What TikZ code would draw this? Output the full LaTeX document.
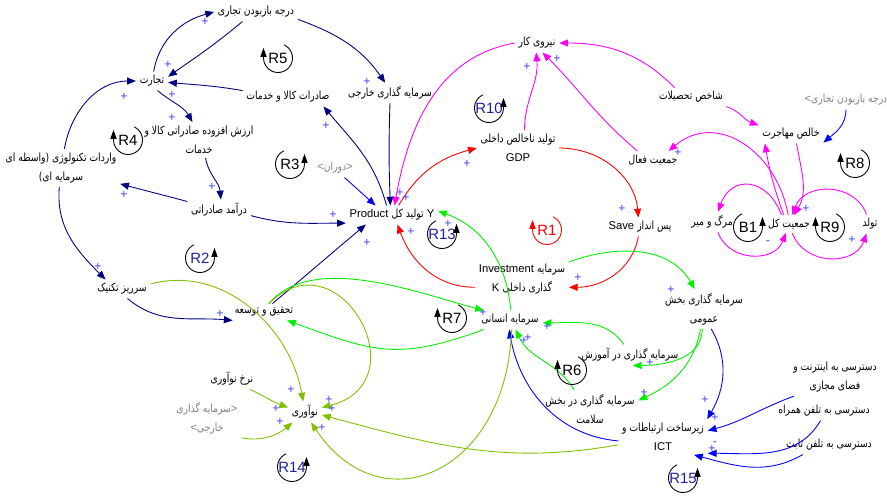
\documentclass[tikz,border=0pt]{standalone}
\usepackage{fontspec}
\setmainfont{Liberation Sans}
\newfontfamily\farsi[Script=Arabic,FakeStretch=0.82]{DejaVu Sans}
\TeXXeTstate=1
\usetikzlibrary{arrows.meta}

\definecolor{cldnavy}{RGB}{0,0,128}
\definecolor{cldmag}{RGB}{255,0,255}
\definecolor{cldred}{RGB}{255,0,0}
\definecolor{cldgreen}{RGB}{0,240,0}
\definecolor{cldolive}{RGB}{128,192,0}
\definecolor{cldblue}{RGB}{0,0,255}
\definecolor{sgnblue}{RGB}{64,64,255}
\definecolor{shadowgray}{RGB}{128,128,128}
\definecolor{loopnavy}{RGB}{32,32,160}

\newcommand\fa[1]{{\farsi\beginR #1\endR}}

\tikzset{
  cldvar/.style={inner sep=2pt, align=center, font=\fontsize{6.4}{11}\selectfont},
  shadowvar/.style={cldvar, text=shadowgray},
  lnk/.style={line width=0.5pt, -{Triangle[length=5pt,width=4pt]}},
  sgn/.style={text=sgnblue, inner sep=0pt, font=\fontsize{7}{7}\selectfont},
  looplbl/.style={inner sep=0pt, font=\fontsize{8.5}{8.5}\selectfont},
  looparr/.style={line width=0.5pt, -{Triangle[length=5pt,width=3.5pt]}},
}

% loop marker, arrow on the left / on the right
\newcommand\cldloopL[4]{%
  \node[looplbl,text=#3] (#1) at (#2) {#1};
  \draw[looparr,#4] (#1.center) ++(65:0.29cm)
    arc[start angle=65,end angle=-180,radius=0.29cm] -- ++(0,0.2cm);
}
\newcommand\cldloopR[4]{%
  \node[looplbl,text=#3] (#1) at (#2) {#1};
  \draw[looparr,#4] (#1.center) ++(115:0.29cm)
    arc[start angle=115,end angle=360,radius=0.29cm] -- ++(0,0.2cm);
}

\begin{document}
\begin{tikzpicture}[x=0.02cm,y=0.02cm]
\useasboundingbox (0,0) rectangle (887,-501);

% variables
\node[cldvar] (dar)  at (256,-12)  {\fa{درجه بازبودن تجاری}};
\node[cldvar] (tj)   at (152,-81)  {\fa{تجارت}};
\node[cldvar] (sad)  at (288,-97)  {\fa{صادرات کالا و خدمات}};
\node[cldvar] (skh)  at (390,-93)  {\fa{سرمایه گذاری خارجی}};
\node[cldvar] (arz)  at (199,-140) {\fa{ارزش افزوده صادراتی کالا و}\\\fa{خدمات}};
\node[cldvar] (vrd)  at (61,-168)  {\fa{واردات تکنولوژی (واسطه ای}\\\fa{سرمایه ای)}};
\node[cldvar] (dsad) at (219,-210) {\fa{درآمد صادراتی}};
\node[shadowvar] (dav) at (335,-168) {<\fa{دوران}>};
\node[cldvar] (Y)    at (392,-215) {Product \fa{تولید کل} Y};
\node[cldvar] (nk)   at (537,-43)  {\fa{نیروی کار}};
\node[cldvar] (gdp)  at (518,-148) {\fa{تولید ناخالص داخلی}\\GDP};
\node[cldvar] (sht)  at (691,-97)  {\fa{شاخص تحصیلات}};
\node[cldvar] (khm)  at (791,-134) {\fa{خالص مهاجرت}};
\node[shadowvar] (sh1) at (846,-100) {<\fa{درجه بازبودن تجاری}};
\node[cldvar] (jf)   at (653,-160) {\fa{جمعیت فعال}};
\node[cldvar] (save) at (640,-227) {Save \fa{پس انداز}};
\node[cldvar] (mm)   at (712,-222) {\fa{مرگ و میر}};
\node[cldvar] (jk)   at (789,-224) {\fa{جمعیت کل}};
\node[cldvar] (tv)   at (870,-224) {\fa{تولد}};
\node[cldvar] (inv)  at (522,-279) {Investment \fa{سرمایه}\\K \fa{گذاری داخلی}};
\node[cldvar] (ens)  at (510,-320) {\fa{سرمایه انسانی}};
\node[cldvar] (sarr) at (122,-289) {\fa{سرریز تکنیک}};
\node[cldvar] (tt)   at (264,-312) {\fa{تحقیق و توسعه}};
\node[cldvar] (sbo)  at (704,-309) {\fa{سرمایه گذاری بخش}\\\fa{عمومی}};
\node[cldvar] (sam)  at (630,-355) {\fa{سرمایه گذاری در آموزش}};
\node[cldvar] (sal)  at (590,-409) {\fa{سرمایه گذاری در بخش}\\\fa{سلامت}};
\node[cldvar] (ict)  at (663,-437) {\fa{زیرساخت ارتباطات و}\\ICT};
\node[cldvar] (int)  at (835,-377) {\fa{دسترسی به اینترنت و}\\\fa{فضای مجازی}};
\node[cldvar] (ham)  at (824,-411) {\fa{دسترسی به تلفن همراه}};
\node[cldvar] (sab)  at (829,-445) {\fa{دسترسی به تلفن ثابت}};
\node[cldvar] (nnv)  at (232,-379) {\fa{نرخ نوآوری}};
\node[shadowvar] (skh2) at (207,-418) {\fa{سرمایه گذاری}>\\<\fa{خارجی}};
\node[cldvar] (nav)  at (305,-412) {\fa{نوآوری}};

% trade links
\draw[lnk,cldnavy] (tj.80) to[out=80,in=195] (dar.west);
\draw[lnk,cldnavy] (dar.-145) to[out=-140,in=35] (tj.15);
\draw[lnk,cldnavy] (sad.172) to[out=170,in=-5] (tj.-5);
\draw[lnk,cldnavy] (tj.-60) to[out=-40,in=120] (arz.110);
\draw[lnk,cldnavy] (vrd.80) to[out=80,in=180] (tj.west);
\draw[lnk,cldnavy] (dar.-10) to[out=-20,in=125] (skh.115);
\draw[lnk,cldnavy] (Y.120) to[out=105,in=-50] (sad.-15);
\draw[lnk,cldnavy] (skh.south) to[out=-92,in=92] (Y.100);
\draw[lnk,cldnavy] (arz.-70) to[out=-80,in=95] (dsad.80);
\draw[lnk,cldnavy] (dsad.165) to[out=165,in=-15] (vrd.-15);
\draw[lnk,cldnavy] (dsad.-10) to[out=-15,in=180] (Y.190);
\draw[lnk,cldnavy] (vrd.-95) to[out=-95,in=135] (sarr.150);
\draw[lnk,cldnavy] (sarr.-60) to[out=-40,in=175] (tt.195);
\draw[lnk,cldnavy] (tt.45) to[out=40,in=-140] (Y.-160);

% ICT and migration links
\draw[lnk,cldblue] (dav.-45) -- (Y.150);
\draw[lnk,cldblue] (sh1.south) to[out=-90,in=40] (khm.-15);
\draw[lnk,cldblue] (sbo.-70) to[out=-60,in=60] (ict.22);
\draw[lnk,cldblue] (int.-155) to[out=-160,in=15] (ict.8);
\draw[lnk,cldblue] (ham.-110) to[out=-120,in=0] (ict.-20);
\draw[lnk,cldblue] (sab.-160) to[out=-150,in=-15] (ict.-30);
\draw[lnk,cldblue] (ict.185) to[out=175,in=-80] (ens.-95);

% capital links
\draw[lnk,cldred] (Y.55) to[out=60,in=195] (gdp.180);
\draw[lnk,cldred] (gdp.0) to[out=0,in=95] (save.100);
\draw[lnk,cldred] (save.-100) to[out=-100,in=0] (inv.-10);
\draw[lnk,cldred] (inv.190) to[out=180,in=-70] (Y.-60);

% population links
\draw[lnk,cldmag] (nk.180) to[out=190,in=80] (Y.75);
\draw[lnk,cldmag] (gdp.70) to[out=90,in=-85] (nk.-95);
\draw[lnk,cldmag] (jf.150) to[out=140,in=-45] (nk.-60);
\draw[lnk,cldmag] (sht.150) to[out=135,in=0] (nk.east);
\draw[lnk,cldmag] (sht.-15) to[out=-20,in=160] (khm.165);
\draw[lnk,cldmag] (jk.95) to[out=100,in=40,looseness=1.2] (jf.30);
\draw[lnk,cldmag] (jk.120) to[out=110,in=-80] (khm.-160);
\draw[lnk,cldmag] (khm.-60) to[out=-80,in=60] (jk.60);
\draw[lnk,cldmag] (jk.130) to[out=110,in=70,looseness=1.6] (mm.60);
\draw[lnk,cldmag] (mm.-60) to[out=-70,in=-110,looseness=1.2] (jk.-110);
\draw[lnk,cldmag] (jk.-70) to[out=-70,in=-110,looseness=1.2] (tv.-110);
\draw[lnk,cldmag] (tv.110) to[out=110,in=70,looseness=1.2] (jk.70);

% human capital links
\draw[lnk,cldgreen] (ens.85) to[out=95,in=-20] (Y.5);
\draw[lnk,cldgreen] (tt.60) to[out=50,in=165,looseness=0.8] (ens.160);
\draw[lnk,cldgreen] (ens.-160) to[out=-160,in=-20,looseness=1.2] (tt.-20);
\draw[lnk,cldgreen] (inv.20) to[out=20,in=120] (sbo.115);
\draw[lnk,cldgreen] (sbo.-95) to[out=-90,in=0] (sam.-75);
\draw[lnk,cldgreen] (sbo.-100) to[out=-100,in=25] (sal.10);
\draw[lnk,cldgreen] (sam.120) to[out=125,in=0] (ens.-5);
\draw[lnk,cldgreen] (sal.130) to[out=120,in=-65] (ens.-60);

% innovation links
\draw[lnk,cldolive] (nnv.-30) to[out=-25,in=160] (nav.165);
\draw[lnk,cldolive] (skh2.-30) to[out=-10,in=-140] (nav.-140);
\draw[lnk,cldolive] (sarr.10) to[out=15,in=100] (nav.100);
\draw[lnk,cldolive] (tt.60) to[out=45,in=14,out distance=1.98cm,in distance=2.06cm] (nav.15);
\draw[lnk,cldolive] (ict.190) to[out=190,in=-15] (nav.-10);
\draw[lnk,cldolive] (ens.-80) to[out=-92,in=-56,out distance=2.86cm,in distance=2.54cm] (nav.-60);

% polarities
\foreach \x/\y [count=\i] in {205/22, 168/65, 172/95, 124/97, 172/118, 367/82, 326/126,
    212/187, 124/195, 333/215, 98/267, 220/314, 367/243, 400/193, 406/198, 411/232,
    448/224, 467/164, 527/67, 557/59, 622/209, 578/278, 671/290, 678/153, 806/209,
    852/240, 483/313, 547/327, 524/341, 528/338, 650/363, 644/393, 705/400, 715/418,
    712/449, 291/390, 276/409, 280/422, 329/400, 332/409, 322/428}
  \node[sgn] (plus\i) at (\x,-\y) {+};
\foreach \x/\y [count=\i] in {768/243, 715/444}
  \node[sgn] (minus\i) at (\x,-\y) {-};

% loops
\cldloopL{R5}{278,-58}{black}{black}
\cldloopL{R4}{128,-140}{black}{black}
\cldloopR{R3}{290,-164}{black}{black}
\cldloopR{R2}{200,-258}{loopnavy}{black}
\cldloopR{R13}{442,-234}{loopnavy}{black}
\cldloopL{R1}{547,-230}{cldred}{cldred}
\cldloopL{R7}{452,-318}{black}{black}
\cldloopR{R10}{489,-108}{loopnavy}{black}
\cldloopL{R8}{855,-163}{black}{black}
\cldloopR{B1}{748,-227}{black}{black}
\cldloopL{R9}{830,-227}{black}{black}
\cldloopL{R6}{572,-370}{black}{black}
\cldloopR{R15}{683,-478}{loopnavy}{black}
\cldloopR{R14}{292,-467}{loopnavy}{black}
\end{tikzpicture}
\end{document}
